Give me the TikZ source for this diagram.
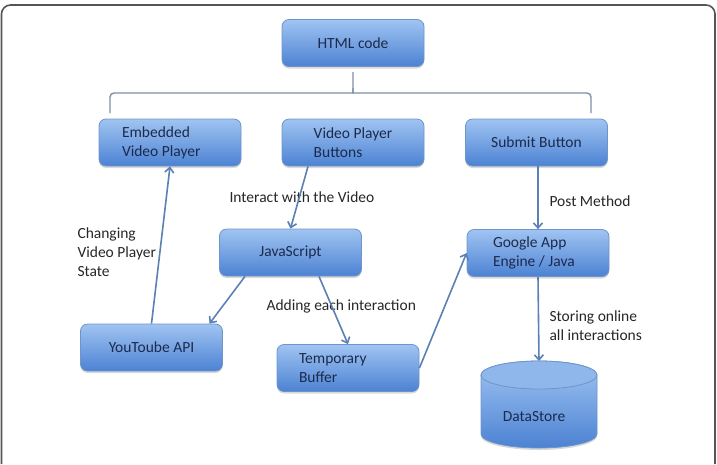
\documentclass[tikz,border=0pt]{standalone}
\usepackage{fontspec}
\setmainfont{Carlito}
\usetikzlibrary{arrows.meta, shadows}
\definecolor{boxtop}{HTML}{A0C4F2}
\definecolor{boxbot}{HTML}{4C82D3}
\definecolor{boxline}{HTML}{6E95CA}
\definecolor{boxtext}{HTML}{1C2A4C}
\definecolor{arrowc}{HTML}{5A80B4}
\definecolor{bracec}{HTML}{7D8FA6}
\definecolor{framec}{HTML}{555555}

\begin{document}
\begin{tikzpicture}[x=1pt, y=-1pt,
  box/.style={draw=boxline, line width=0.8pt, rounded corners=7pt, top color=boxtop, bottom color=boxbot,
    minimum width=142pt, minimum height=47pt, align=flush left, text=boxtext,
    font=\fontsize{15.5}{19}\selectfont,
    drop shadow={shadow xshift=0pt, shadow yshift=-2pt, opacity=0.25, fill=black!60}},
  lbl/.style={anchor=west, align=left, text=black!85, font=\fontsize{15.5}{19}\selectfont},
  arr/.style={draw=arrowc, line width=1.6pt, -{Straight Barb[length=5pt,width=9pt]}}]
\useasboundingbox (0,0) rectangle (717,464);
\draw [framec, line width=1.6pt, rounded corners=9pt] (1.5,464) -- (1.5,5) -- (715,5) -- (715,464);
\node (html) at (353,43) [box] {HTML code};
\draw [bracec, line width=1.4pt] (110,113) [rounded corners=4pt] -- (110,93) -- (349,93) [sharp corners] .. controls (353,93) .. (353,88) -- (353,72);
\draw [bracec, line width=1.4pt] (591,113) [rounded corners=4pt] -- (591,93) -- (357,93) [sharp corners] .. controls (353,93) .. (353,88);
\node (emb) at (170,142.5) [box, text width=96pt, inner xsep=23pt] {Embedded\\Video Player};
\node (vpb) at (353,142.5) [box] {Video Player\\Buttons};
\node (sub) at (536.5,142.5) [box] {Submit Button};
\node (js) at (290.5,252.5) [box] {JavaScript};
\node (gae) at (538,253) [box, text width=90pt, inner xsep=26pt] {Google App\\Engine / Java};
\node (buf) at (348,368) [box, text width=98pt, inner xsep=22pt] {Temporary\\Buffer};
\node (yt) at (151.5,347.5) [box] {YouToube API};
\path [draw=boxline, line width=0.8pt, top color=boxtop, bottom color=boxbot, drop shadow={shadow xshift=0pt, shadow yshift=-2pt, opacity=0.25, fill=black!60}] (481,375) -- (481,434) arc [start angle=180, end angle=360, x radius=58pt, y radius=14pt] -- (597,375) arc [start angle=0, end angle=180, x radius=58pt, y radius=14pt] -- cycle;
\draw [boxline, line width=0.8pt, fill=boxtop!80!boxbot] (539,375) ellipse [x radius=58pt, y radius=14pt];
\node (store) at (534,417) [text=boxtext, font=\fontsize{15.5}{19}\selectfont] {DataStore};
\coordinate (storetop) at (539,361);
\node (lchange) at (74,252) [lbl] {Changing\\Video Player\\State};
\node (linteract) at (226,197) [lbl] {Interact with the Video};
\node (ladding) at (263,306) [lbl] {Adding each interaction};
\node (lpost) at (546,201) [lbl] {Post Method};
\node (lstoring) at (546,326) [lbl] {Storing online\\all interactions};
\draw [arr] (yt.north) -- (emb.south);
\draw [arr] ([xshift=-45pt]vpb.south) -- (js.north);
\draw [arr] ([xshift=-45.5pt]js.south) -- ([xshift=58pt]yt.north);
\draw [arr] ([xshift=28.5pt]js.south) -- (buf.north);
\draw [arr] (buf.east) -- (gae.west);
\draw [arr] (gae.north |- sub.south) -- (gae.north);
\draw [arr] (gae.south) -- (storetop);
\end{tikzpicture}
\end{document}
